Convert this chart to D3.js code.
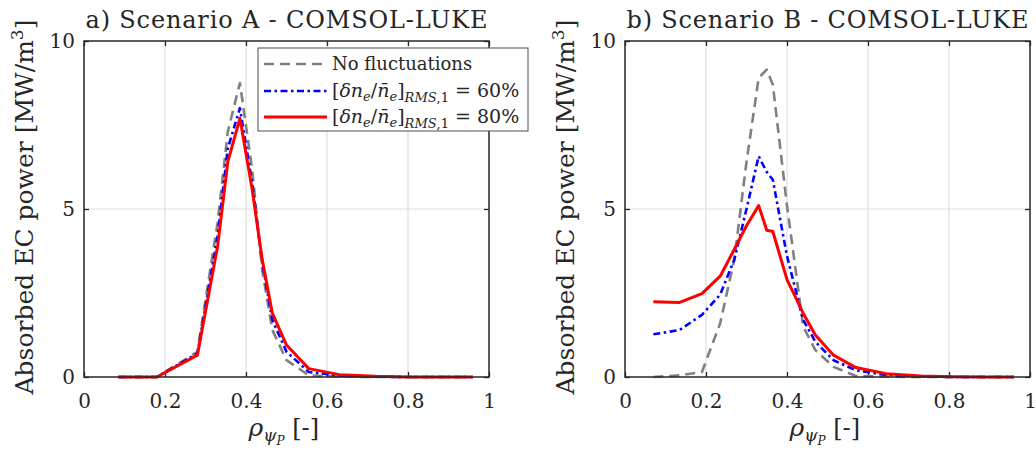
<!DOCTYPE html>
<html>
<head>
<meta charset="utf-8">
<script src="https://cdn.jsdelivr.net/npm/d3@7"></script>
<style>
  html, body { margin: 0; padding: 0; background: #fff; }
  svg { display: block; }
  text { font-family: "DejaVu Serif", "Liberation Serif", serif; fill: #262626; }
</style>
</head>
<body>
<div id="chart"></div>
<script>
// absorbed EC power profiles
const rhoA   = [0.085, 0.18, 0.28, 0.33, 0.355, 0.385, 0.415, 0.44, 0.465, 0.50, 0.555, 0.63, 0.72, 0.80, 0.88, 0.96]
const noFluctA = [0, 0, 0.75, 4.6, 7.3, 8.75, 6.2, 3.2, 1.4, 0.5, 0.05, 0.01, 0, 0, 0, 0]
const fluct60A = [0, 0, 0.7, 4.2, 6.8, 8.0, 5.8, 3.4, 1.7, 0.75, 0.15, 0.04, 0.01, 0, 0, 0]
const fluct80A = [0, 0, 0.65, 3.9, 6.4, 7.7, 5.6, 3.5, 1.9, 0.95, 0.25, 0.07, 0.02, 0, 0, 0]

const rhoB   = [0.07, 0.135, 0.19, 0.235, 0.27, 0.30, 0.33, 0.35, 0.365, 0.40, 0.44, 0.47, 0.515, 0.57, 0.645, 0.73, 0.81, 0.89, 0.96]
const noFluctB = [0, 0.05, 0.15, 1.6, 3.5, 6.4, 8.9, 9.15, 8.7, 5.1, 1.5, 0.8, 0.3, 0.03, 0.01, 0, 0, 0, 0]
const fluct60B = [1.27, 1.4, 1.85, 2.45, 3.5, 5.0, 6.57, 6.1, 5.87, 3.6, 1.7, 1.05, 0.5, 0.2, 0.06, 0.02, 0, 0, 0]
const fluct80B = [2.24, 2.22, 2.48, 3.0, 3.8, 4.5, 5.1, 4.37, 4.33, 2.9, 1.9, 1.25, 0.65, 0.28, 0.1, 0.03, 0.01, 0, 0]

const xTicks = [0, 0.2, 0.4, 0.6, 0.8, 1]
const yTicks = [0, 5, 10]
const titles = ["a) Scenario A - COMSOL-LUKE", "b) Scenario B - COMSOL-LUKE"]

const W = 1036, H = 456
const svg = d3.select("#chart").append("svg").attr("width", W).attr("height", H)

// series styles: gray dashed, blue dash-dot, red solid
const styles = [
  { color: "#808080", dash: "10,6", width: 2.6 },
  { color: "#0000ff", dash: "7,3.5,2.5,3.5", width: 2.6 },
  { color: "#ff0000", dash: null, width: 3 }
]

// append a run of tspans; each part = [text, italic, size, shift(px, + = down)]
function mathText(t, parts) {
  let cur = 0
  parts.forEach(p => {
    const [txt, it, size, shift] = p
    t.append("tspan")
      .attr("dy", shift - cur)
      .style("font-style", it ? "italic" : "normal")
      .style("font-size", size + "px")
      .text(txt)
    cur = shift
  })
}

function drawPanel(left, rho, series, title, withLegend) {
  const x = d3.scaleLinear().domain([0, 1]).range([left, left + 405])
  const y = d3.scaleLinear().domain([0, 10]).range([377, 41])
  const g = svg.append("g")

  // grid
  g.selectAll(".gx").data(xTicks.slice(1, -1)).join("line")
    .attr("x1", d => x(d)).attr("x2", d => x(d))
    .attr("y1", y(0)).attr("y2", y(10))
    .attr("stroke", "#dedede").attr("stroke-width", 1.2)
  g.selectAll(".gy").data(yTicks.slice(1, -1)).join("line")
    .attr("x1", x(0)).attr("x2", x(1))
    .attr("y1", d => y(d)).attr("y2", d => y(d))
    .attr("stroke", "#dedede").attr("stroke-width", 1.2)

  // axes with inward ticks on all four sides
  const axB = g.append("g").attr("transform", `translate(0,${y(0)})`)
    .call(d3.axisBottom(x).tickValues(xTicks).tickSizeInner(-5).tickSizeOuter(0).tickPadding(17).tickFormat(d3.format("")))
  const axT = g.append("g").attr("transform", `translate(0,${y(10)})`)
    .call(d3.axisTop(x).tickValues(xTicks).tickSizeInner(-5).tickSizeOuter(0).tickFormat(""))
  const axL = g.append("g").attr("transform", `translate(${x(0)},0)`)
    .call(d3.axisLeft(y).tickValues(yTicks).tickSizeInner(-5).tickSizeOuter(0).tickPadding(9))
  const axR = g.append("g").attr("transform", `translate(${x(1)},0)`)
    .call(d3.axisRight(y).tickValues(yTicks).tickSizeInner(-5).tickSizeOuter(0).tickFormat(""))
  ;[axB, axT, axL, axR].forEach(a => {
    a.select(".domain").remove()
    a.selectAll(".tick line").attr("stroke", "#262626").attr("stroke-width", 1.3)
    a.selectAll("text").style("font-size", "20px").style("font-family", "DejaVu Serif").attr("fill", "#262626")
  })

  // curves
  const line = d3.line().x(d => x(d[0])).y(d => y(d[1]))
  series.forEach((s, i) => {
    g.append("path")
      .datum(rho.map((r, k) => [r, s[k]]))
      .attr("d", line)
      .attr("fill", "none")
      .attr("stroke", styles[i].color)
      .attr("stroke-width", styles[i].width)
      .attr("stroke-dasharray", styles[i].dash)
      .attr("stroke-linejoin", "round")
  })

  // frame
  g.append("rect")
    .attr("x", x(0)).attr("y", y(10))
    .attr("width", x(1) - x(0)).attr("height", y(0) - y(10))
    .attr("fill", "none").attr("stroke", "#262626").attr("stroke-width", 1.5)

  // title
  g.append("text")
    .attr("x", (x(0) + x(1)) / 2).attr("y", 28)
    .attr("text-anchor", "middle")
    .attr("textLength", 402).attr("lengthAdjust", "spacing")
    .style("font-size", "24px")
    .text(title)

  // y label
  const yl = g.append("text")
    .attr("transform", `translate(${left - 51},207) rotate(-90)`)
    .attr("text-anchor", "middle")
    .style("font-size", "25px")
  mathText(yl, [["Absorbed EC power [MW/m", false, 25, 0], ["3", false, 17, -10], ["]", false, 25, 0]])

  // x label
  const xl = g.append("text")
    .attr("x", (x(0) + x(1)) / 2 - 38).attr("y", 436)
    .style("font-size", "24px")
  mathText(xl, [["ρ", true, 25, 0], ["ψ", true, 17, 5], ["P", true, 12, 9], ["  [-]", false, 24, 0]])

  if (withLegend) {
    const lg = g.append("g")
    lg.append("rect").attr("x", 258).attr("y", 48).attr("width", 270).attr("height", 83)
      .attr("fill", "#fff").attr("stroke", "#4d4d4d").attr("stroke-width", 1)
    const rowsY = [64, 91, 117]
    rowsY.forEach((ry, i) => {
      lg.append("line").attr("x1", 264).attr("x2", 327).attr("y1", ry).attr("y2", ry)
        .attr("stroke", styles[i].color).attr("stroke-width", styles[i].width)
        .attr("stroke-dasharray", styles[i].dash)
    })
    lg.append("text").attr("x", 332).attr("y", 70).style("font-size", "18px").text("No fluctuations")
    ;["60%", "80%"].forEach((pc, i) => {
      const t = lg.append("text").attr("x", 332).attr("y", rowsY[i + 1] + 6).style("font-size", "18px")
      mathText(t, [
        ["[", false, 19, 0], ["δn", true, 19, 0], ["e", true, 13, 4], ["/", false, 19, 0],
        ["n\u0304", true, 19, 0], ["e", true, 13, 4], ["]", false, 19, 0],
        ["RMS", true, 13, 5], [",1", false, 13, 5], [" = " + pc, false, 19, 0]
      ])
    })
  }
}

drawPanel(84, rhoA, [noFluctA, fluct60A, fluct80A], titles[0], true)
drawPanel(625, rhoB, [noFluctB, fluct60B, fluct80B], titles[1], false)
</script>
</body>
</html>
